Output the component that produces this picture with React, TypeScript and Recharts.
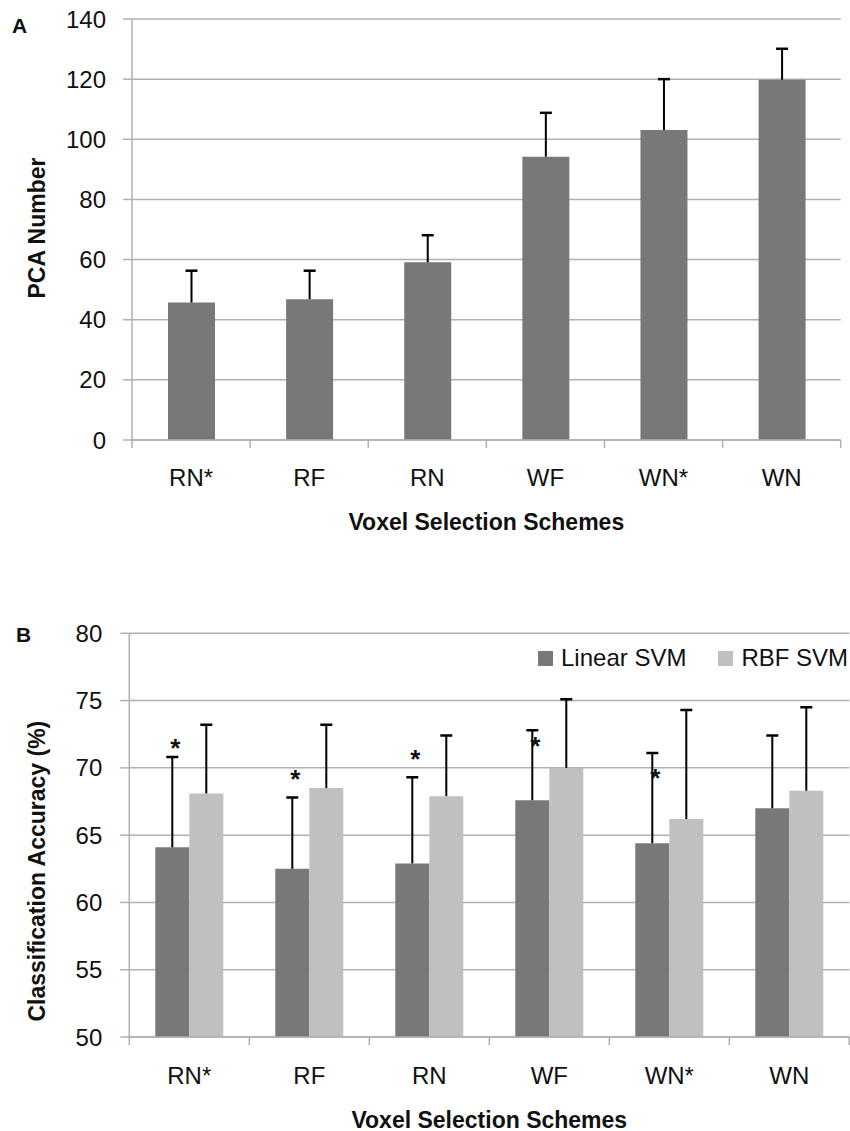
import React from 'react';
import { BarChart, ComposedChart, Bar, Scatter, XAxis, YAxis, CartesianGrid, Legend } from 'recharts';

// ---------- data ----------
const schemes = ['RN*', 'RF', 'RN', 'WF', 'WN*', 'WN'];

const pcaNumber = [45.7, 46.8, 59.1, 94.2, 103.1, 119.8];
const pcaError = [10.6, 9.5, 9.0, 14.6, 16.9, 10.3];
const pcaTicks = [0, 20, 40, 60, 80, 100, 120, 140];

const linearSvm = [64.1, 62.5, 62.9, 67.6, 64.4, 67.0];
const linearSvmError = [6.7, 5.3, 6.4, 5.2, 6.7, 5.4];
const rbfSvm = [68.1, 68.5, 67.9, 70.0, 66.2, 68.3];
const rbfSvmError = [5.1, 4.7, 4.5, 5.1, 8.1, 6.2];
const asteriskLevel: (number | null)[] = [71.9, 69.6, 71.1, 72.1, 69.7, null];
const accTicks = [50, 55, 60, 65, 70, 75, 80];

const pcaData = schemes.map((scheme, i) => ({
  scheme,
  pca: pcaNumber[i],
  pcaErr: pcaError[i],
}));

const accData = schemes.map((scheme, i) => ({
  scheme,
  linear: linearSvm[i],
  linearErr: linearSvmError[i],
  rbf: rbfSvm[i],
  rbfErr: rbfSvmError[i],
  asterisk: asteriskLevel[i],
}));

// ---------- styles / layout ----------
const FONT = '"Liberation Sans", Arial, Helvetica, sans-serif';
const DARK = '#787878';
const LIGHT = '#c0c0c0';
const GRID = '#b0b0b0';
const INK = '#111111';
const PAGE_W = 850;
const PAGE_H = 1131;

const A_H = 540;
const A_MARGIN = { top: 19, right: 9.3, bottom: 0, left: 0 };
const A_YAXIS_W = 132;
const A_XAXIS_H = 100;
const A_PLOT_W = PAGE_W - A_MARGIN.left - A_MARGIN.right - A_YAXIS_W;
const A_TICK_MARGIN = 28.5;

const B_TOP = 560;
const B_H = PAGE_H - B_TOP;
const B_MARGIN = { top: 73.3, right: 0.7, bottom: 0, left: 0 };
const B_YAXIS_W = 129.3;
const B_XAXIS_H = 94;
const B_PLOT_W = PAGE_W - B_MARGIN.left - B_MARGIN.right - B_YAXIS_W;
const B_TICK_MARGIN = 29.5;
const ASTERISK_DX = -14;

function makeBandTick(plotW: number, tickMargin: number) {
  return (props: any) => {
    const { x, y, payload, index, visibleTicksCount } = props;
    const n = visibleTicksCount || schemes.length;
    const half = plotW / n / 2;
    const axisY = y - tickMargin;
    return (
      <g>
        <line x1={x - half} x2={x - half} y1={axisY} y2={axisY + 8} stroke={GRID} strokeWidth={1.5} />
        {index === n - 1 && (
          <line x1={x + half} x2={x + half} y1={axisY} y2={axisY + 8} stroke={GRID} strokeWidth={1.5} />
        )}
        <text x={x} y={y} dy="0.71em" textAnchor="middle" fontSize={24} fill={INK} fontFamily={FONT}>
          {payload.value}
        </text>
      </g>
    );
  };
}

const Whisker = (props: any) => {
  const { x, y, width, height } = props;
  if (![x, y, width, height].every((v) => Number.isFinite(v))) return <g />;
  const cx = x + width / 2;
  return (
    <g>
      <line x1={cx} x2={cx} y1={y} y2={y + height} stroke="#000" strokeWidth={2} />
      <line x1={cx - 6} x2={cx + 6} y1={y} y2={y} stroke="#000" strokeWidth={2.5} />
    </g>
  );
};

const Asterisk = (props: any) => {
  const { cx, cy, payload } = props;
  if (!payload || payload.asterisk == null || !Number.isFinite(cy)) return <g />;
  return (
    <text x={cx + ASTERISK_DX} y={cy} dy={15} textAnchor="middle" fontSize={26} fontWeight="bold" fill={INK} fontFamily={FONT}>
      *
    </text>
  );
};

const LegendContent = (props: any) => {
  const items = (props.payload || []).filter((p: any) => p.type !== 'none');
  return (
    <div style={{ display: 'flex', alignItems: 'center', fontFamily: FONT, fontSize: 24, lineHeight: '28px', color: INK, whiteSpace: 'nowrap' }}>
      {items.map((item: any, i: number) => (
        <div key={i} style={{ display: 'flex', alignItems: 'center', marginLeft: i ? 32 : 0 }}>
          <span style={{ width: 15, height: 15, background: item.color, display: 'inline-block', marginRight: 8 }} />
          <span>{item.value}</span>
        </div>
      ))}
    </div>
  );
};

const xTitle = (text: string, offset: number) => (p: any) => {
  const vb = p.viewBox || {};
  return (
    <text x={vb.x + vb.width / 2} y={vb.y + vb.height - offset} textAnchor="middle" fontSize={23} fontWeight="bold" fill={INK} fontFamily={FONT}>
      {text}
    </text>
  );
};

const yTitle = (text: string, baselineX: number, dy: number) => (p: any) => {
  const vb = p.viewBox || {};
  const cy = vb.y + vb.height / 2 + dy;
  return (
    <text x={baselineX} y={cy} transform={`rotate(-90, ${baselineX}, ${cy})`} textAnchor="middle" fontSize={23} fontWeight="bold" fill={INK} fontFamily={FONT}>
      {text}
    </text>
  );
};

const tickStyle = { fontSize: 24, fill: INK, fontFamily: FONT };

export default function App() {
  return (
    <div style={{ position: 'absolute', left: 0, top: 0, width: PAGE_W, height: PAGE_H, background: '#fff' }}>
      <div style={{ position: 'absolute', left: 0, top: 0 }}>
        <BarChart width={PAGE_W} height={A_H} data={pcaData} margin={A_MARGIN} barGap={0}>
          <CartesianGrid horizontal vertical={false} stroke={GRID} strokeWidth={1.5} />
          <XAxis
            dataKey="scheme"
            height={A_XAXIS_H}
            axisLine={{ stroke: GRID, strokeWidth: 1.5 }}
            tickLine={false}
            tickSize={0}
            tickMargin={A_TICK_MARGIN}
            tick={makeBandTick(A_PLOT_W, A_TICK_MARGIN)}
            interval={0}
            label={{ content: xTitle('Voxel Selection Schemes', 10) }}
          />
          <YAxis
            width={A_YAXIS_W}
            domain={[0, 140]}
            ticks={pcaTicks}
            interval={0}
            axisLine={{ stroke: GRID, strokeWidth: 1.5 }}
            tickLine={{ stroke: GRID, strokeWidth: 1.5 }}
            tickSize={9}
            tickMargin={17}
            tick={tickStyle}
            label={{ content: yTitle('PCA Number', 45, -1.5) }}
          />
          <Bar dataKey="pca" stackId="a" fill={DARK} barSize={47} isAnimationActive={false} />
          <Bar dataKey="pcaErr" stackId="a" shape={Whisker} legendType="none" isAnimationActive={false} />
        </BarChart>
      </div>

      <div style={{ position: 'absolute', left: 0, top: B_TOP }}>
        <ComposedChart width={PAGE_W} height={B_H} data={accData} margin={B_MARGIN} barGap={0}>
          <CartesianGrid horizontal vertical={false} stroke={GRID} strokeWidth={1.5} />
          <XAxis
            dataKey="scheme"
            height={B_XAXIS_H}
            axisLine={{ stroke: GRID, strokeWidth: 1.5 }}
            tickLine={false}
            tickSize={0}
            tickMargin={B_TICK_MARGIN}
            tick={makeBandTick(B_PLOT_W, B_TICK_MARGIN)}
            interval={0}
            label={{ content: xTitle('Voxel Selection Schemes', 3) }}
          />
          <YAxis
            width={B_YAXIS_W}
            domain={[50, 80]}
            allowDataOverflow
            ticks={accTicks}
            interval={0}
            axisLine={{ stroke: GRID, strokeWidth: 1.5 }}
            tickLine={{ stroke: GRID, strokeWidth: 1.5 }}
            tickSize={9}
            tickMargin={18}
            tick={tickStyle}
            label={{ content: yTitle('Classification Accuracy (%)', 45, 36) }}
          />
          <Legend
            layout="horizontal"
            verticalAlign="middle"
            align="center"
            wrapperStyle={{ top: 84, left: 538, width: 320, height: 28 }}
            content={LegendContent}
          />
          <Bar dataKey="linear" name="Linear SVM" stackId="lin" fill={DARK} barSize={34} isAnimationActive={false} />
          <Bar dataKey="linearErr" stackId="lin" shape={Whisker} legendType="none" barSize={34} isAnimationActive={false} />
          <Bar dataKey="rbf" name="RBF SVM" stackId="rbf" fill={LIGHT} barSize={34} isAnimationActive={false} />
          <Bar dataKey="rbfErr" stackId="rbf" shape={Whisker} legendType="none" barSize={34} isAnimationActive={false} />
          <Scatter dataKey="asterisk" shape={Asterisk} legendType="none" isAnimationActive={false} />
        </ComposedChart>
      </div>

      <svg width={PAGE_W} height={PAGE_H} style={{ position: 'absolute', left: 0, top: 0, pointerEvents: 'none' }}>
        <text x={12} y={33} fontSize={21} fontWeight="bold" fill={INK} fontFamily={FONT}>A</text>
        <text x={16} y={642} fontSize={21} fontWeight="bold" fill={INK} fontFamily={FONT}>B</text>
      </svg>
    </div>
  );
}
